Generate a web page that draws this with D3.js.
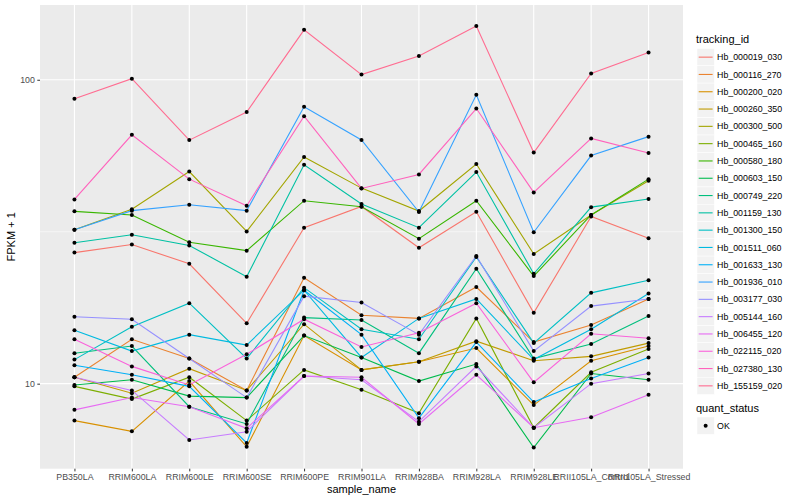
<!DOCTYPE html>
<html>
<head>
<meta charset="utf-8">
<script src="https://cdn.jsdelivr.net/npm/d3@7/dist/d3.min.js"></script>
<style>
  body { margin: 0; background: #fff; }
  text { font-family: "Liberation Sans", Arial, Helvetica, sans-serif; }
</style>
</head>
<body>
<svg id="chart" width="800" height="500"></svg>
<script>
// samples on the x axis
const samples = ["PB350LA", "RRIM600LA", "RRIM600LE", "RRIM600SE", "RRIM600PE", "RRIM901LA",
                 "RRIM928BA", "RRIM928LA", "RRIM928LE", "RRII105LA_Control", "RRII105LA_Stressed"];

const trackingIds = ["Hb_000019_030", "Hb_000116_270", "Hb_000200_020", "Hb_000260_350", "Hb_000300_500",
                     "Hb_000465_160", "Hb_000580_180", "Hb_000603_150", "Hb_000749_220", "Hb_001159_130",
                     "Hb_001300_150", "Hb_001511_060", "Hb_001633_130", "Hb_001936_010", "Hb_003177_030",
                     "Hb_005144_160", "Hb_006455_120", "Hb_022115_020", "Hb_027380_130", "Hb_155159_020"];

// FPKM + 1, one array per gene, same order as samples
const hb_000019_030 = [27.0, 28.7, 24.8, 15.8, 32.6, 38.3, 28.0, 36.8, 17.1, 35.5, 30.1];
const hb_000116_270 = [10.5, 14.0, 12.1, 9.5, 22.3, 16.8, 16.4, 20.8, 13.7, 15.6, 19.0];
const hb_000200_020 = [7.56, 6.97, 10.2, 6.2, 14.4, 11.1, 11.8, 13.1, 8.5, 11.9, 13.3];
const hb_000260_350 = [10.5, 9.3, 11.2, 9.5, 15.7, 11.1, 11.8, 13.8, 11.9, 12.3, 13.6];
const hb_000300_500 = [32.1, 37.5, 49.9, 31.7, 55.7, 44.0, 37.0, 52.8, 26.7, 35.9, 46.5];
const hb_000465_160 = [9.8, 8.9, 10.5, 7.56, 11.1, 9.55, 8.0, 16.4, 7.16, 10.9, 13.0];
const hb_000580_180 = [36.9, 35.9, 29.2, 27.4, 40.0, 38.2, 30.0, 40.0, 22.6, 35.9, 47.1];
const hb_000603_150 = [9.9, 10.3, 9.1, 9.0, 14.4, 12.2, 10.2, 11.6, 6.16, 10.8, 10.3];
const hb_000749_220 = [12.6, 13.3, 8.4, 7.37, 16.5, 16.2, 12.6, 23.9, 12.1, 13.5, 16.7];
const hb_001159_130 = [29.1, 30.9, 28.5, 22.5, 52.5, 39.0, 32.6, 49.7, 23.0, 38.1, 40.5];
const hb_001300_150 = [12.0, 15.4, 18.4, 12.1, 20.7, 15.1, 14.0, 26.1, 13.6, 19.9, 21.9];
const hb_001511_060 = [15.0, 12.8, 14.5, 13.4, 20.3, 12.2, 16.4, 19.0, 12.0, 15.1, 19.8];
const hb_001633_130 = [11.5, 10.7, 9.8, 6.38, 20.3, 14.5, 7.7, 13.7, 8.7, 10.4, 12.2];
const hb_001936_010 = [32.1, 37.1, 38.8, 37.1, 81.5, 63.4, 36.7, 89.2, 31.5, 56.3, 65.0];
const hb_003177_030 = [16.6, 16.3, 12.1, 9.0, 19.4, 18.5, 14.5, 26.3, 12.8, 18.0, 19.0];
const hb_005144_160 = [10.5, 9.5, 6.53, 6.95, 10.6, 10.3, 7.5, 11.4, 7.16, 10.0, 10.8];
const hb_006455_120 = [8.2, 9.0, 8.4, 7.13, 10.6, 10.5, 7.37, 10.7, 7.16, 7.75, 9.2];
const hb_022115_020 = [14.0, 11.4, 9.9, 12.5, 16.3, 13.2, 14.7, 18.4, 10.1, 14.6, 14.1];
const hb_027380_130 = [40.4, 65.9, 47.1, 38.5, 75.9, 43.9, 48.8, 80.4, 42.6, 64.1, 57.4];
const hb_155159_020 = [86.6, 100.8, 63.3, 78.3, 146.0, 104.0, 119.7, 150.2, 57.6, 104.9, 123.0];

const quantStatus = ["OK"];
const yTicks = [10, 100];

const seriesValues = [hb_000019_030, hb_000116_270, hb_000200_020, hb_000260_350, hb_000300_500,
                      hb_000465_160, hb_000580_180, hb_000603_150, hb_000749_220, hb_001159_130,
                      hb_001300_150, hb_001511_060, hb_001633_130, hb_001936_010, hb_003177_030,
                      hb_005144_160, hb_006455_120, hb_022115_020, hb_027380_130, hb_155159_020];

// ggplot hue palette for 20 levels
const palette = ["#F8766D", "#EA8331", "#D89000", "#C09B00", "#A3A500", "#7CAE00", "#39B600", "#00BB4E",
                 "#00BF7D", "#00C1A3", "#00BFC4", "#00BAE0", "#00B0F6", "#35A2FF", "#9590FF", "#C77CFF",
                 "#E76BF3", "#FA62DB", "#FF62BC", "#FF6C91"];

const series = trackingIds.map((id, i) => ({
    id: id,
    values: samples.map((s, j) => ({sample: s, value: seriesValues[i][j]}))
}));

const svg = d3.select("#chart");
const panel = {left: 40, right: 683, top: 5, bottom: 468.7};

// discrete x, ggplot adds 0.6 of a step on each side
const x = d3.scalePoint().domain(samples).range([panel.left, panel.right]).padding(0.6);

// log y with 5% expansion in log space
const allVals = seriesValues.flat();
let lo = Math.log10(d3.min(allVals)), hi = Math.log10(d3.max(allVals));
let pad = (hi - lo) * 0.05;
const y = d3.scaleLog()
    .domain([Math.pow(10, lo - pad), Math.pow(10, hi + pad)])
    .range([panel.bottom, panel.top]);

// panel background
svg.append("rect")
    .attr("x", panel.left).attr("y", panel.top)
    .attr("width", panel.right - panel.left).attr("height", panel.bottom - panel.top)
    .attr("fill", "#EBEBEB");

const grid = svg.append("g");
// minor grid halfway between decades
const minor = [0.5, 1.5, 2.5].map(d => Math.pow(10, d)).filter(d => d > y.domain()[0] && d < y.domain()[1]);
grid.selectAll(".minor").data(minor).enter().append("line")
    .attr("x1", panel.left).attr("x2", panel.right)
    .attr("y1", d => y(d)).attr("y2", d => y(d))
    .attr("stroke", "#fff").attr("stroke-width", 0.55);
grid.selectAll(".major").data(yTicks).enter().append("line")
    .attr("x1", panel.left).attr("x2", panel.right)
    .attr("y1", d => y(d)).attr("y2", d => y(d))
    .attr("stroke", "#fff").attr("stroke-width", 1.1);
grid.selectAll(".vmajor").data(samples).enter().append("line")
    .attr("x1", d => x(d)).attr("x2", d => x(d))
    .attr("y1", panel.top).attr("y2", panel.bottom)
    .attr("stroke", "#fff").attr("stroke-width", 1.1);

const line = d3.line().x(d => x(d.sample)).y(d => y(d.value));

svg.append("g").selectAll("path").data(series).enter().append("path")
    .attr("d", d => line(d.values))
    .attr("fill", "none")
    .attr("stroke", (d, i) => palette[i])
    .attr("stroke-width", 1.1);

svg.append("g").selectAll("circle").data(series.flatMap(s => s.values)).enter().append("circle")
    .attr("cx", d => x(d.sample))
    .attr("cy", d => y(d.value))
    .attr("r", 2)
    .attr("fill", "#000");

// axes
const xAxis = svg.append("g")
    .attr("transform", `translate(0,${panel.bottom})`)
    .call(d3.axisBottom(x).tickSize(2.7).tickPadding(2.5));
xAxis.select(".domain").remove();
xAxis.selectAll("line").attr("stroke", "#333");
xAxis.selectAll("text").attr("fill", "#4D4D4D").style("font-size", "8.8px")
    .style("font-family", "Liberation Sans, Arial, sans-serif");

const yAxis = svg.append("g")
    .attr("transform", `translate(${panel.left},0)`)
    .call(d3.axisLeft(y).tickValues(yTicks).tickFormat(d3.format("d")).tickSize(2.7).tickPadding(2.5));
yAxis.select(".domain").remove();
yAxis.selectAll("line").attr("stroke", "#333");
yAxis.selectAll("text").attr("fill", "#4D4D4D").style("font-size", "8.8px")
    .style("font-family", "Liberation Sans, Arial, sans-serif");

svg.append("text")
    .attr("x", (panel.left + panel.right) / 2).attr("y", 493)
    .attr("text-anchor", "middle").style("font-size", "11px")
    .text("sample_name");

svg.append("text")
    .attr("transform", `translate(15,${(panel.top + panel.bottom) / 2}) rotate(-90)`)
    .attr("text-anchor", "middle").style("font-size", "11px")
    .text("FPKM + 1");

// legend: tracking_id
const keySize = 17.3;
const legX = 697;
const legend = svg.append("g");
legend.append("text").attr("x", legX - 1).attr("y", 43).style("font-size", "11px").text("tracking_id");

const keys = legend.selectAll(".key").data(trackingIds).enter().append("g")
    .attr("transform", (d, i) => `translate(${legX},${48.5 + i * keySize})`);
keys.append("rect")
    .attr("width", keySize).attr("height", keySize)
    .attr("fill", "#F2F2F2").attr("stroke", "#fff").attr("stroke-width", 0.5);
keys.append("line")
    .attr("x1", 1.7).attr("x2", keySize - 1.7)
    .attr("y1", keySize / 2).attr("y2", keySize / 2)
    .attr("stroke", (d, i) => palette[i]).attr("stroke-width", 1.1);
keys.append("text")
    .attr("x", keySize + 2.8).attr("y", keySize / 2 + 3.1)
    .style("font-size", "8.8px").text(d => d);

// legend: quant_status
const q0 = 48.5 + trackingIds.length * keySize + 17;
legend.append("text").attr("x", legX - 1).attr("y", q0 + 0.5).style("font-size", "11px").text("quant_status");
const qkeys = legend.selectAll(".qkey").data(quantStatus).enter().append("g")
    .attr("transform", (d, i) => `translate(${legX},${q0 + 5.5 + i * keySize})`);
qkeys.append("rect")
    .attr("width", keySize).attr("height", keySize)
    .attr("fill", "#F2F2F2").attr("stroke", "#fff").attr("stroke-width", 0.5);
qkeys.append("circle")
    .attr("cx", keySize / 2).attr("cy", keySize / 2).attr("r", 2).attr("fill", "#000");
qkeys.append("text")
    .attr("x", keySize + 2.8).attr("y", keySize / 2 + 3.1)
    .style("font-size", "8.8px").text(d => d);
</script>
</body>
</html>
